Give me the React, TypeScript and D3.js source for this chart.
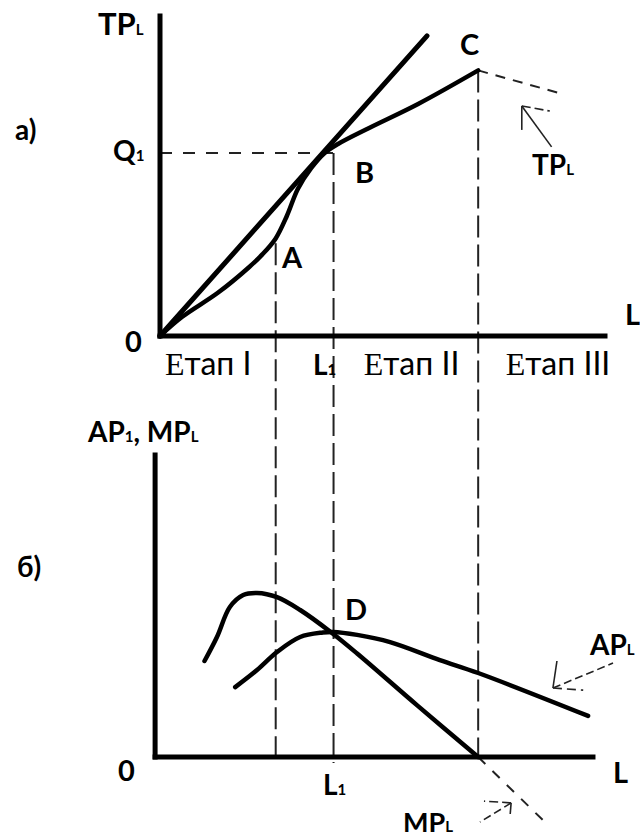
import React from "react";
import * as d3 from "d3";

// ---- data (economic units) ----
const tpL = [0, 0.5, 1.3, 2.0, 2.3, 2.6, 2.85, 3.1, 3.4, 3.7, 4.0, 4.7, 5.8, 7.15];
const tpQ = [0, 0.6, 1.35, 2.15, 2.55, 3.05, 3.75, 4.6, 5.25, 5.72, 6.0, 6.5, 7.25, 8.3];
const tpExtL = [7.15, 8.95];
const tpExtQ = [8.3, 7.6];
const rayL = [0, 6.0];
const rayQ = [0, 9.38];

const mpL = [1.0, 1.28, 1.57, 1.87, 2.18, 2.63, 3.15, 3.85, 4.43, 5.78, 7.15];
const mpV = [3.2, 4.0, 5.0, 5.4, 5.47, 5.33, 4.9, 4.15, 3.45, 1.72, 0];
const mpExtL = [7.15, 8.65];
const mpExtV = [0, -2.17];
const apL = [1.69, 2.18, 2.63, 3.15, 3.66, 3.89, 4.43, 5.17, 6.29, 7.15, 9.62];
const apV = [2.33, 2.9, 3.5, 4.0, 4.15, 4.17, 4.07, 3.83, 3.23, 2.8, 1.37];

const LA = 2.6;
const QA = 2.9;
const L1 = 3.9;
const Q1 = 5.72;
const LC = 7.15;
const QC = 8.3;

const stageLabels = ["тап I", "тап II", "тап III"];
const stageX = [0.11, 4.58, 7.77];

// annotation arrows [tipL, tipV, tailL, tailV, h1L, h1V, h2L, h2V]
const tpArrow = [8.13, 7.19, 8.8, 5.91, 8.76, 7.03, 8.13, 6.44];
const apArrow = [8.83, 2.3, 10.18, 3.13, 8.92, 3.2, 9.51, 2.23];
const mpArrow = [7.89, -1.53, 7.19, -2.17, 7.28, -1.47, 7.87, -1.9];

const x = d3.scaleLinear().domain([0, 10]).range([160, 605]);
const yT = d3.scaleLinear().domain([0, 10]).range([336, 16]);
const yB = d3.scaleLinear().domain([0, 10]).range([757, 457]);

const zip = (a: number[], b: number[]) => a.map((v, i) => [v, b[i]] as [number, number]);

const lineT = d3
  .line<[number, number]>()
  .x((d) => x(d[0]))
  .y((d) => yT(d[1]))
  .curve(d3.curveCatmullRom.alpha(0.5));
const lineB = d3
  .line<[number, number]>()
  .x((d) => x(d[0]))
  .y((d) => yB(d[1]))
  .curve(d3.curveCatmullRom.alpha(0.5));
const straightT = d3.line<[number, number]>().x((d) => x(d[0])).y((d) => yT(d[1]));
const straightB = d3.line<[number, number]>().x((d) => x(d[0])).y((d) => yB(d[1]));

const BOLD = "Lato, 'Open Sans', sans-serif";
const SERIF = "'Liberation Serif', 'DejaVu Serif', serif";

function Arrow({ a, y, dashMain, dashH1, dashH2 }: { a: number[]; y: (v: number) => number; dashMain?: string; dashH1?: string; dashH2?: string }) {
  const tx = x(a[0]), ty = y(a[1]);
  return (
    <g stroke="#222" strokeWidth={1.6} fill="none">
      <line x1={tx} y1={ty} x2={x(a[2])} y2={y(a[3])} strokeDasharray={dashMain} />
      <line x1={tx} y1={ty} x2={x(a[4])} y2={y(a[5])} strokeDasharray={dashH1} />
      <line x1={tx} y1={ty} x2={x(a[6])} y2={y(a[7])} strokeDasharray={dashH2} />
    </g>
  );
}

export default function App() {
  const tp = zip(tpL, tpQ);
  const ap = zip(apL, apV);
  const mp = zip(mpL, mpV);
  const dashV = "22,7";
  return (
    <svg width={640} height={839} style={{ position: "absolute", left: 0, top: 0, background: "#fff" }}>
      <rect width={640} height={839} fill="#fff" />
      {/* dashed guides */}
      <g stroke="#222" strokeWidth={2} fill="none">
        <line x1={x(0)} y1={yT(Q1)} x2={x(L1)} y2={yT(Q1)} strokeDasharray="12,11" />
        <line x1={x(LA)} y1={yT(QA)} x2={x(LA)} y2={yB(0)} strokeDasharray={dashV} />
        <line x1={x(L1)} y1={yT(Q1)} x2={x(L1)} y2={yB(-0.2)} strokeDasharray={dashV} />
        <line x1={x(LC)} y1={yT(QC)} x2={x(LC)} y2={yB(0)} strokeDasharray={dashV} />
        <path d={straightT(zip(tpExtL, tpExtQ)) || ""} strokeDasharray="10,8" />
        <path d={straightB(zip(mpExtL, mpExtV)) || ""} strokeDasharray="10,10" />
      </g>
      {/* axes */}
      <g stroke="#000" strokeWidth={5} fill="none" strokeLinecap="square">
        <line x1={x(0)} y1={yT(10)} x2={x(0)} y2={yT(0)} />
        <line x1={x(0)} y1={yT(0)} x2={x(10)} y2={yT(0)} />
        <line x1={x(-0.11)} y1={yB(10.07)} x2={x(-0.11)} y2={yB(0)} />
        <line x1={x(-0.11)} y1={yB(0)} x2={x(9.73)} y2={yB(0)} />
      </g>
      {/* curves */}
      <g stroke="#000" fill="none" strokeLinecap="round" strokeLinejoin="round">
        <path d={straightT(zip(rayL, rayQ)) || ""} strokeWidth={5} />
        <path d={lineT(tp) || ""} strokeWidth={4.5} />
        <path d={lineB(mp) || ""} strokeWidth={4.5} />
        <path d={lineB(ap) || ""} strokeWidth={4.5} />
      </g>
      {/* arrows */}
      <Arrow a={tpArrow} y={yT} dashH1="9,4" />
      <Arrow a={apArrow} y={yB} dashMain="8,4" dashH2="9,5" />
      <Arrow a={mpArrow} y={yB} dashMain="8,4" dashH1="9,4" />
      {/* labels */}
      <g fontFamily={BOLD} fontWeight={700} fill="#000">
        <text x={98} y={35} fontSize={31}>TP<tspan fontSize={15}>L</tspan></text>
        <text x={15} y={140} fontSize={28}>a)</text>
        <text x={113} y={161} fontSize={28}>Q<tspan fontSize={15}>1</tspan></text>
        <text x={125} y={352} fontSize={29}>0</text>
        <text x={282} y={268} fontSize={29}>A</text>
        <text x={355} y={183} fontSize={29}>B</text>
        <text x={460} y={55} fontSize={29}>C</text>
        <text x={532} y={175} fontSize={28}>TP<tspan fontSize={15}>L</tspan></text>
        <text x={625} y={325} fontSize={29}>L</text>
        <text x={313} y={375} fontSize={28}>L<tspan fontSize={15}>1</tspan></text>
        <text x={88} y={442} fontSize={28}>AP<tspan fontSize={15}>1</tspan>, MP<tspan fontSize={15}>L</tspan></text>
        <text x={17} y={577} fontSize={28}>б)</text>
        <text x={118} y={781} fontSize={29}>0</text>
        <text x={323} y={795} fontSize={28}>L<tspan fontSize={15}>1</tspan></text>
        <text x={613} y={783} fontSize={29}>L</text>
        <text x={345} y={620} fontSize={29}>D</text>
        <text x={590} y={655} fontSize={28}>AP<tspan fontSize={15}>L</tspan></text>
        <text x={403} y={832} fontSize={27}>MP<tspan fontSize={15}>L</tspan></text>
      </g>
      <g fill="#000">
        {stageLabels.map((s, i) => (
          <text key={s} x={x(stageX[i]) } y={375} fontSize={32}>
            <tspan fontFamily={SERIF}>Е</tspan>
            <tspan fontFamily="Lato, sans-serif">{s}</tspan>
          </text>
        ))}
      </g>
    </svg>
  );
}
